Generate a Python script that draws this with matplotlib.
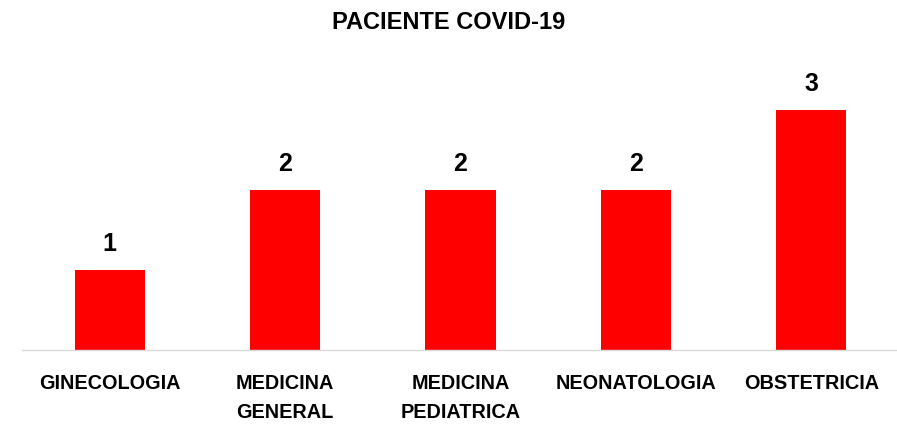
import matplotlib
matplotlib.use("Agg")
import matplotlib.pyplot as plt

categories = ["GINECOLOGIA", "MEDICINA\nGENERAL", "MEDICINA\nPEDIATRICA", "NEONATOLOGIA", "OBSTETRICIA"]
values = [1, 2, 2, 2, 3]
title = "PACIENTE COVID-19"

plt.rcParams['font.family'] = ['Liberation Sans', 'DejaVu Sans']

fig = plt.figure(figsize=(8.97, 4.26), dpi=100)
ax = fig.add_axes([22/897, 76/426, 877/897, 280/426])
x = list(range(len(categories)))
bars = ax.bar(x, values, width=0.4, color="#ff0000")
ax.set_xlim(-0.5, len(categories) - 0.5)
ax.set_ylim(0, 3.5)
for xi, v in zip(x, values):
    ax.annotate(str(v), (xi, v), xytext=(0, 10), textcoords="offset points",
                ha="center", va="bottom", fontsize=18, fontweight="bold")
ax.set_xticks(x)
ax.set_xticklabels(categories, fontsize=14.3, fontweight="bold", linespacing=1.7)
ax.tick_params(axis="x", length=0, pad=17)
ax.set_yticks([])
for s in ["top", "right", "left"]:
    ax.spines[s].set_visible(False)
ax.spines["bottom"].set_color("#d9d9d9")
ax.spines["bottom"].set_linewidth(1)
fig.text(0.5, 1 - 29/426, title, ha="center", va="baseline", fontsize=17, fontweight="bold")
fig.savefig("out.png", dpi=100)
